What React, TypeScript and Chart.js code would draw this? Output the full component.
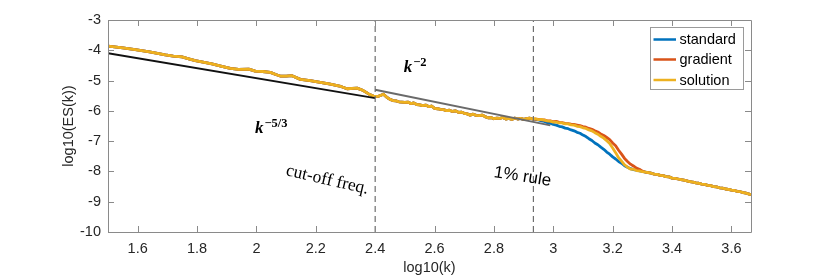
import React, { useEffect, useRef } from 'react';
import { Chart, registerables } from 'chart.js';

Chart.register(...registerables);

const xTicks = [1.6, 1.8, 2, 2.2, 2.4, 2.6, 2.8, 3, 3.2, 3.4, 3.6];
const yTicks = [-10, -9, -8, -7, -6, -5, -4, -3];
const seriesLabels = ['standard', 'gradient', 'solution'];
const seriesColors = ['#0072BD', '#D95319', '#EDB120'];

// shared part of the three spectra (they coincide below ~2.93)
const kShared = [
  1.5, 1.55, 1.592, 1.64, 1.693, 1.72, 1.749, 1.775, 1.794, 1.82, 1.85, 1.88, 1.912, 1.94, 1.974, 1.996,
  2.02, 2.047, 2.065, 2.08, 2.1, 2.12, 2.148, 2.181, 2.215, 2.249, 2.28, 2.305, 2.339, 2.36, 2.378, 2.395,
  2.411, 2.428, 2.44,
  2.45, 2.46, 2.47, 2.48, 2.49, 2.5, 2.51, 2.52, 2.53, 2.54, 2.55, 2.56, 2.57, 2.58, 2.59, 2.6,
  2.61, 2.62, 2.63, 2.64, 2.65, 2.66, 2.67, 2.68, 2.69, 2.7, 2.71, 2.72, 2.73, 2.74, 2.75, 2.76,
  2.77, 2.78, 2.79, 2.8, 2.81, 2.82, 2.83, 2.84, 2.85, 2.86, 2.87, 2.88, 2.89, 2.9, 2.91, 2.92, 2.93,
];
const esShared = [
  -3.86, -3.92, -3.98, -4.05, -4.15, -4.19, -4.22, -4.29, -4.34, -4.39, -4.45, -4.52, -4.6, -4.63, -4.62, -4.69,
  -4.7, -4.73, -4.8, -4.85, -4.85, -4.84, -4.96, -5.0, -5.06, -5.12, -5.18, -5.27, -5.25, -5.33, -5.44, -5.52,
  -5.52, -5.45, -5.56,
  -5.62, -5.66, -5.67, -5.7, -5.71, -5.72, -5.71, -5.76, -5.74, -5.79, -5.8, -5.83, -5.81, -5.86, -5.84, -5.92,
  -5.93, -5.95, -5.96, -5.99, -5.98, -6.02, -6.0, -6.05, -6.04, -6.08, -6.1, -6.14, -6.11, -6.15, -6.16, -6.14,
  -6.19, -6.23, -6.22, -6.26, -6.24, -6.25, -6.22, -6.27, -6.25, -6.28, -6.24, -6.27, -6.25, -6.28, -6.26, -6.24, -6.27,
];

// region where the three spectra differ
const kMid = [
  2.94, 2.95, 2.96, 2.97, 2.98, 2.99, 3.0, 3.01, 3.02, 3.03, 3.04, 3.05, 3.06, 3.07, 3.08, 3.09, 3.1, 3.11, 3.12,
  3.13, 3.14, 3.15, 3.16, 3.17, 3.18, 3.19, 3.2, 3.21, 3.22, 3.23, 3.24, 3.25, 3.26, 3.27, 3.28, 3.29, 3.3,
];
const esStandardMid = [
  -6.28, -6.3, -6.33, -6.35, -6.39, -6.41, -6.45, -6.47, -6.51, -6.53, -6.57, -6.59, -6.63, -6.66, -6.71, -6.74, -6.8, -6.85, -6.92,
  -6.98, -7.06, -7.12, -7.2, -7.27, -7.36, -7.43, -7.52, -7.59, -7.67, -7.73, -7.81, -7.86, -7.91, -7.94, -7.96, -7.98, -8.0,
];
const esGradientMid = [
  -6.27, -6.28, -6.3, -6.3, -6.33, -6.33, -6.36, -6.35, -6.38, -6.39, -6.41, -6.42, -6.44, -6.45, -6.47, -6.49, -6.52, -6.54, -6.58,
  -6.61, -6.66, -6.7, -6.76, -6.81, -6.88, -6.95, -7.06, -7.15, -7.3, -7.43, -7.57, -7.67, -7.76, -7.82, -7.89, -7.93, -7.99,
];
const esSolutionMid = [
  -6.26, -6.29, -6.28, -6.31, -6.33, -6.34, -6.37, -6.37, -6.4, -6.4, -6.43, -6.43, -6.46, -6.47, -6.51, -6.52, -6.56, -6.58, -6.63,
  -6.66, -6.72, -6.77, -6.84, -6.9, -6.99, -7.08, -7.23, -7.38, -7.55, -7.66, -7.78, -7.86, -7.92, -7.93, -7.97, -7.98, -8.01,
];

// high wavenumber tail, shared
const kHigh = [
  3.31, 3.32, 3.33, 3.34, 3.35, 3.36, 3.37, 3.38, 3.39, 3.4, 3.41, 3.42, 3.43, 3.44, 3.45, 3.46, 3.47, 3.48, 3.49,
  3.5, 3.51, 3.52, 3.53, 3.54, 3.55, 3.56, 3.57, 3.58, 3.59, 3.6, 3.61, 3.62, 3.63, 3.64, 3.65, 3.66, 3.666,
];
const esHigh = [
  -8.02, -8.04, -8.06, -8.09, -8.1, -8.13, -8.14, -8.17, -8.18, -8.22, -8.23, -8.25, -8.27, -8.29, -8.31, -8.34, -8.35, -8.38, -8.39,
  -8.42, -8.43, -8.46, -8.47, -8.5, -8.51, -8.54, -8.55, -8.58, -8.59, -8.62, -8.63, -8.66, -8.67, -8.7, -8.72, -8.75, -8.77,
];

// reference slopes
const kSlope53 = [1.5, 2.4];
const esSlope53 = [-4.1, -5.58];
const kSlope2 = [2.4, 2.99];
const esSlope2 = [-5.3, -6.48];

// vertical markers
const kCutoff = 2.4;
const kRule = 2.933;

const X_MIN = 1.5;
const X_MAX = 3.666;
const Y_MIN = -10;
const Y_MAX = -3;

const pts = (xs: number[], ys: number[]) => xs.map((x, i) => ({ x, y: ys[i] }));

const SANS = '"Liberation Sans", Arial, Helvetica, sans-serif';
const SERIF = '"Liberation Serif", "Times New Roman", serif';

const decorPlugin = {
  id: 'decor',
  afterDatasetsDraw(chart: any) {
    const ctx = chart.ctx as CanvasRenderingContext2D;
    const { left, right, top, bottom } = chart.chartArea;
    const xs = chart.scales.x;
    const ys = chart.scales.y;
    ctx.save();
    // axes box
    ctx.strokeStyle = '#8a8a8a';
    ctx.lineWidth = 1;
    ctx.beginPath();
    ctx.rect(Math.round(left) + 0.5, Math.round(top) + 0.5, Math.round(right - left), Math.round(bottom - top));
    ctx.stroke();
    // inward ticks
    ctx.beginPath();
    for (const v of xTicks) {
      const p = Math.round(xs.getPixelForValue(v)) + 0.5;
      ctx.moveTo(p, bottom);
      ctx.lineTo(p, bottom - 6);
      ctx.moveTo(p, top);
      ctx.lineTo(p, top + 6);
    }
    for (const v of yTicks) {
      const p = Math.round(ys.getPixelForValue(v)) + 0.5;
      ctx.moveTo(left, p);
      ctx.lineTo(left + 6, p);
      ctx.moveTo(right, p);
      ctx.lineTo(right - 6, p);
    }
    ctx.stroke();

    // annotations
    ctx.fillStyle = '#000';
    ctx.textBaseline = 'alphabetic';
    ctx.textAlign = 'left';
    const drawPower = (xv: number, yv: number, exp: string) => {
      const px = xs.getPixelForValue(xv);
      const py = ys.getPixelForValue(yv);
      ctx.font = `bold italic 17px ${SERIF}`;
      ctx.fillText('k', px, py);
      const w = ctx.measureText('k').width;
      ctx.font = `bold 12.5px ${SERIF}`;
      ctx.fillText(exp, px + w + 1, py - 6);
    };
    drawPower(1.995, -6.72, '\u22125/3');
    drawPower(2.496, -4.72, '\u22122');

    const drawRotated = (xv: number, yv: number, angleDeg: number, text: string, font: string) => {
      const px = xs.getPixelForValue(xv);
      const py = ys.getPixelForValue(yv);
      ctx.save();
      ctx.translate(px, py);
      ctx.rotate((angleDeg * Math.PI) / 180);
      ctx.font = font;
      ctx.fillText(text, 0, 0);
      ctx.restore();
    };
    drawRotated(2.097, -8.12, 13, 'cut-off freq.', `17.5px ${SERIF}`);
    drawRotated(2.798, -8.18, 9, '1% rule', `17px ${SANS}`);

    // legend
    const lx = 650, ly = 27, lw = 93, lh = 62;
    ctx.fillStyle = '#fff';
    ctx.fillRect(lx, ly, lw, lh);
    ctx.strokeStyle = '#9a9a9a';
    ctx.lineWidth = 1;
    ctx.strokeRect(lx + 0.5, ly + 0.5, lw, lh);
    ctx.font = `14.5px ${SANS}`;
    ctx.textBaseline = 'middle';
    const rows = [39.5, 59.5, 80];
    seriesLabels.forEach((lab, i) => {
      ctx.strokeStyle = seriesColors[i];
      ctx.lineWidth = 2.5;
      ctx.beginPath();
      ctx.moveTo(653.5, rows[i]);
      ctx.lineTo(676, rows[i]);
      ctx.stroke();
      ctx.fillStyle = '#000';
      ctx.fillText(lab, 679.5, rows[i] + 0.5);
    });
    ctx.restore();
  },
};

export default function App() {
  const ref = useRef<HTMLCanvasElement | null>(null);
  useEffect(() => {
    document.body.style.margin = '0';
    const canvas = ref.current;
    if (!canvas) return;
    const dashed = (k: number) => ({
      data: [
        { x: k, y: Y_MIN },
        { x: k, y: Y_MAX },
      ],
      borderColor: '#6e6e6e',
      borderWidth: 1.2,
      borderDash: [6, 4],
      order: 0,
    });
    const seriesData = [
      [...pts(kShared, esShared), ...pts(kMid, esStandardMid), ...pts(kHigh, esHigh)],
      [...pts(kShared, esShared), ...pts(kMid, esGradientMid), ...pts(kHigh, esHigh)],
      [...pts(kShared, esShared), ...pts(kMid, esSolutionMid), ...pts(kHigh, esHigh)],
    ];
    const chart = new Chart(canvas, {
      type: 'line',
      data: {
        datasets: [
          dashed(kCutoff),
          dashed(kRule),
          { data: pts(kSlope53, esSlope53), borderColor: '#111111', borderWidth: 2, order: 0 },
          { data: pts(kSlope2, esSlope2), borderColor: '#6a6a6a', borderWidth: 2, order: 0 },
          { label: seriesLabels[2], data: seriesData[2], borderColor: seriesColors[2], borderWidth: 2.8, order: 1 },
          { label: seriesLabels[1], data: seriesData[1], borderColor: seriesColors[1], borderWidth: 2.8, order: 2 },
          { label: seriesLabels[0], data: seriesData[0], borderColor: seriesColors[0], borderWidth: 2.8, order: 3 },
        ] as any,
      },
      options: {
        animation: false,
        responsive: false,
        parsing: false as any,
        normalized: true,
        layout: { padding: { top: 20, right: 79, bottom: 0, left: 0 } },
        elements: { point: { radius: 0 }, line: { tension: 0, borderJoinStyle: 'round', borderCapStyle: 'butt' } },
        plugins: { legend: { display: false }, tooltip: { enabled: false } },
        scales: {
          x: {
            type: 'linear',
            min: X_MIN,
            max: X_MAX,
            afterBuildTicks: (s: any) => {
              s.ticks = xTicks.map((v) => ({ value: v }));
            },
            afterFit: (s: any) => {
              s.height = 45;
            },
            grid: { display: false, drawTicks: false },
            border: { display: false },
            ticks: {
              color: '#262626',
              font: { family: SANS, size: 14.5 },
              padding: 8,
              maxRotation: 0,
              autoSkip: false,
              callback: (v: any) => String(v),
            },
            title: {
              display: true,
              text: 'log10(k)',
              color: '#262626',
              font: { family: SANS, size: 14.5 },
              padding: { top: 0, bottom: 0 },
            },
          },
          y: {
            type: 'linear',
            min: Y_MIN,
            max: Y_MAX,
            afterBuildTicks: (s: any) => {
              s.ticks = yTicks.map((v) => ({ value: v }));
            },
            afterFit: (s: any) => {
              s.width = 108;
            },
            grid: { display: false, drawTicks: false },
            border: { display: false },
            ticks: {
              color: '#262626',
              font: { family: SANS, size: 14.5 },
              padding: 7,
              autoSkip: false,
              callback: (v: any) => String(v),
            },
            title: {
              display: true,
              text: 'log10(ES(k))',
              color: '#262626',
              font: { family: SANS, size: 14.5 },
              padding: { top: 60, bottom: 0 },
            },
          },
        },
      },
      plugins: [decorPlugin],
    });
    return () => chart.destroy();
  }, []);
  return (
    <div style={{ width: 830, height: 277 }}>
      <canvas ref={ref} width={830} height={277} style={{ display: 'block' }} />
    </div>
  );
}
